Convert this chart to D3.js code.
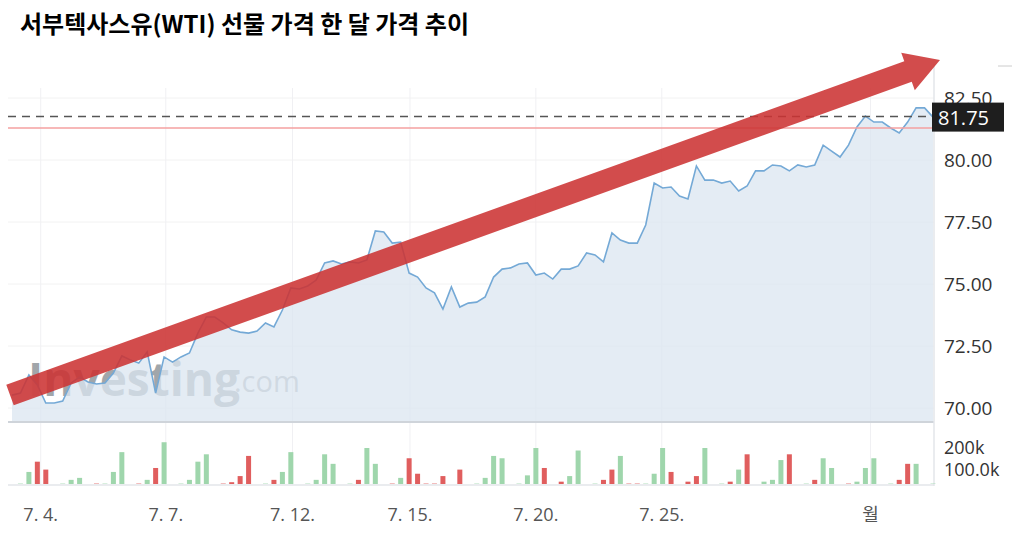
<!doctype html>
<html>
<head>
<meta charset="utf-8">
<script src="https://d3js.org/d3.v7.min.js"></script>
<style>
  body { margin:0; background:#fff; }
  text { font-family: "Open Sans", "Noto Sans CJK KR", sans-serif; }
  .title { font-family: "Noto Sans CJK KR", sans-serif; font-weight:700; font-size:24px; }
</style>
</head>
<body>
<svg id="chart" width="1018" height="551"></svg>
<script>
// WTI price, evenly spaced samples over the month
var prices = [70.52,70.60,71.33,70.93,70.20,70.20,70.28,71.01,71.25,71.05,70.97,71.01,71.41,72.10,71.94,71.81,72.26,70.60,72.06,71.85,
  72.06,72.22,73.02,73.67,73.67,73.43,73.15,73.06,73.02,73.10,73.43,73.27,73.95,74.84,74.80,74.92,75.16,75.85,75.93,75.81,
  75.89,75.85,75.97,77.14,77.10,76.65,76.69,75.44,75.28,74.84,74.64,73.99,74.88,74.07,74.23,74.27,74.48,75.28,75.60,75.65,
  75.81,75.85,75.36,75.44,75.20,75.60,75.60,75.73,76.25,76.17,75.89,77.06,76.77,76.65,76.65,77.38,79.07,78.87,78.91,78.55,
  78.43,79.76,79.19,79.19,79.07,79.15,78.75,78.95,79.56,79.56,79.80,79.76,79.56,79.80,79.72,79.80,80.60,80.36,80.12,80.60,
  81.33,81.77,81.53,81.53,81.29,81.09,81.53,82.10,82.10,81.73];
// volume in thousands per sample (0 = no bar) and direction (1 up, -1 down)
var volumeIdx = [1,2,3,4,6,7,8,10,11,12,13,15,16,17,18,20,21,22,23,25,26,27,28,30,31,32,33,35,36,37,38,40,41,42,43,45,46,47,48,49,50,51,53,
  55,56,57,58,60,61,62,63,65,66,67,69,70,71,72,73,74,75,76,77,78,80,81,82,84,85,86,87,89,90,91,92,94,95,96,97,99,100,101,102,104,105,106,107,109];
var volumeVal = [5,67,124,80,5,23,34,5,5,67,177,5,23,89,232,5,23,124,165,5,10,44,156,5,23,67,177,5,23,165,112,5,23,200,112,5,34,143,57,5,5,44,80,
  5,34,156,143,5,48,200,89,13,44,186,5,23,80,156,5,5,5,57,200,67,13,44,200,5,13,80,165,13,23,133,165,5,23,143,89,5,13,89,143,5,23,112,112,5];
var volumeDir = [1,1,-1,-1,1,1,1,-1,1,1,1,-1,1,-1,1,1,1,1,1,-1,-1,-1,-1,1,-1,1,1,1,1,1,1,1,-1,1,1,-1,1,-1,-1,-1,-1,-1,-1,
  1,1,1,1,1,1,1,-1,-1,1,1,1,-1,-1,1,-1,-1,1,1,1,-1,-1,-1,1,1,-1,1,-1,1,1,1,-1,1,-1,1,1,-1,1,1,1,1,-1,-1,1,1];
var priceTicks = [70, 72.5, 75, 77.5, 80, 82.5];
var dateLabels = ["7. 4.", "7. 7.", "7. 12.", "7. 15.", "7. 20.", "7. 25.", "월"];
var dateIdx = [3.4, 18.2, 33.2, 47.1, 62.0, 76.9, 101.6];
var lastPrice = 81.75, refPrice = 81.29;

var svg = d3.select("#chart");
var x = d3.scaleLinear().domain([0, prices.length - 1]).range([12, 933]);
var y = d3.scaleLinear().domain([70, 82.5]).range([408, 98]);
var yv = d3.scaleLinear().domain([0, 200]).range([484, 448]);

svg.append("text").attr("class", "title").attr("x", 20).attr("y", 33).text("서부텍사스유(WTI) 선물 가격 한 달 가격 추이");

// grid
svg.selectAll(".hg").data(priceTicks).enter().append("line")
  .attr("x1", 8).attr("x2", 934).attr("y1", d => y(d)).attr("y2", d => y(d))
  .attr("stroke", "#f2f2f2");
svg.selectAll(".vg").data(dateIdx).enter().append("line")
  .attr("x1", d => x(d)).attr("x2", d => x(d)).attr("y1", 88).attr("y2", 485)
  .attr("stroke", "#f0f0f3");

// watermark
svg.append("text").attr("x", 28).attr("y", 396).attr("font-size", 46).attr("font-weight", 700)
  .attr("fill", "#8a9096").attr("opacity", 0.8).attr("font-family", "Roboto, sans-serif").text("Investing");
svg.append("text").attr("x", 234).attr("y", 392).attr("font-size", 29)
  .attr("fill", "#9aa0a6").attr("opacity", 0.8).attr("font-family", "Roboto, sans-serif").text(".com");

// area + line
svg.append("path").datum(prices)
  .attr("d", d3.area().x((d, i) => x(i)).y0(421).y1(d => y(d)))
  .attr("fill", "#dbe6f0").attr("opacity", 0.75);
svg.append("path").datum(prices)
  .attr("d", d3.line().x((d, i) => x(i)).y(d => y(d)))
  .attr("fill", "none").attr("stroke", "#74a9d6").attr("stroke-width", 1.6);

// reference lines
svg.append("line").attr("x1", 8).attr("x2", 934).attr("y1", y(refPrice)).attr("y2", y(refPrice))
  .attr("stroke", "#f5a0a0").attr("stroke-width", 1.3);
svg.append("line").attr("x1", 8).attr("x2", 934).attr("y1", y(lastPrice)).attr("y2", y(lastPrice))
  .attr("stroke", "#555").attr("stroke-width", 1.5).attr("stroke-dasharray", "8,6");

// panel separators
svg.append("line").attr("x1", 8).attr("x2", 934).attr("y1", 422).attr("y2", 422).attr("stroke", "#cfd4da").attr("stroke-width", 2);
svg.append("line").attr("x1", 8).attr("x2", 934).attr("y1", 485).attr("y2", 485).attr("stroke", "#e3e6ea").attr("stroke-width", 1.5);
svg.append("line").attr("x1", 934).attr("x2", 934).attr("y1", 64).attr("y2", 486).attr("stroke", "#e3e6ea").attr("stroke-width", 1.5);
svg.append("line").attr("x1", 998).attr("x2", 1012).attr("y1", 66).attr("y2", 66).attr("stroke", "#ccc");

// volume bars
svg.selectAll(".vb").data(volumeIdx).enter().append("rect")
  .attr("x", d => x(d) - 2.5).attr("width", 5)
  .attr("y", (d, i) => yv(volumeVal[i])).attr("height", (d, i) => yv(0) - yv(volumeVal[i]))
  .attr("fill", (d, i) => volumeDir[i] > 0 ? "#9fd6ac" : "#e05e5e")
  .attr("opacity", (d, i) => volumeVal[i] < 8 ? 0.45 : 1);

// price axis labels
svg.selectAll(".pt").data(priceTicks).enter().append("text")
  .attr("x", 944).attr("y", d => y(d) + 7).attr("font-size", 19).attr("fill", "#333")
  .text(d => d.toFixed(2));
svg.append("rect").attr("x", 932).attr("y", y(lastPrice) - 14).attr("width", 72).attr("height", 29).attr("fill", "#1e1e1e");
svg.append("text").attr("x", 938).attr("y", y(lastPrice) + 8).attr("font-size", 20).attr("fill", "#fff").text(lastPrice.toFixed(2));

// volume axis labels
svg.append("text").attr("x", 944).attr("y", yv(200) + 6).attr("font-size", 18).attr("fill", "#333").text("200k");
svg.append("text").attr("x", 944).attr("y", yv(100) + 10).attr("font-size", 18).attr("fill", "#333").text("100.0k");

// date labels
svg.selectAll(".dl").data(dateLabels).enter().append("text")
  .attr("x", (d, i) => x(dateIdx[i])).attr("y", 521).attr("text-anchor", "middle")
  .attr("font-size", 18).attr("fill", "#555").text(d => d);

// trend arrow annotation
var ax0 = 10, ay0 = 395, ax1 = 940, ay1 = 60;
var ang = Math.atan2(ay1 - ay0, ax1 - ax0), w = 11, hl = 34, hw = 20;
var ux = Math.cos(ang), uy = Math.sin(ang), px = -uy, py = ux;
var bx = ax1 - ux * hl, by = ay1 - uy * hl;
var pts = [[ax0 + px * w, ay0 + py * w], [bx + px * w, by + py * w], [bx + px * hw, by + py * hw], [ax1, ay1],
  [bx - px * hw, by - py * hw], [bx - px * w, by - py * w], [ax0 - px * w, ay0 - py * w]];
svg.append("path").attr("d", "M" + pts.map(p => p.join(",")).join("L") + "Z")
  .attr("fill", "#cc3333").attr("opacity", 0.88);
</script>
</body>
</html>
